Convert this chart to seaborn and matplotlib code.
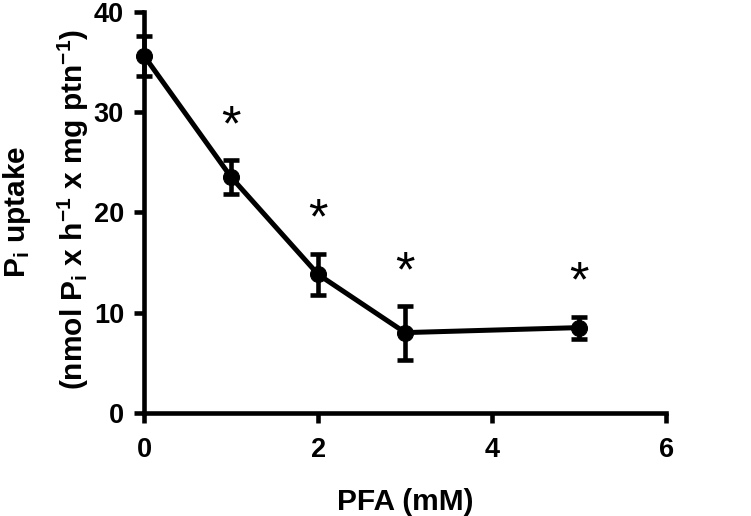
import matplotlib
matplotlib.use("Agg")
import matplotlib.pyplot as plt
import seaborn as sns
import pandas as pd

pfa_mM = [0, 1, 2, 3, 5]
uptake = [35.6, 23.5, 13.8, 8.0, 8.5]
sem = [2.0, 1.7, 2.0, 2.7, 1.1]
star_x = [1, 2, 3, 5]
star_y = [28.45, 19.15, 13.95, 12.95]
x_ticks = [0, 2, 4, 6]
y_ticks = [0, 10, 20, 30, 40]
ylabel_line1 = "P$_\\mathregular{i}$ uptake"
ylabel_line2 = "(nmol P$_\\mathregular{i}$ x h$^{-1}$ x mg ptn$^{-1}$)"
xlabel = "PFA (mM)"

sns.set_theme(style="ticks")
plt.rcParams['font.family'] = ['Liberation Sans', 'DejaVu Sans']
plt.rcParams['font.weight'] = 'bold'
plt.rcParams['mathtext.fontset'] = 'custom'
plt.rcParams['mathtext.rm'] = 'Liberation Sans:bold'
plt.rcParams['mathtext.it'] = 'Liberation Sans:bold'
plt.rcParams['mathtext.bf'] = 'Liberation Sans:bold'
plt.rcParams['mathtext.default'] = 'rm'

df = pd.DataFrame({"PFA": pfa_mM, "uptake": uptake, "sem": sem})

fig = plt.figure(figsize=(7.51, 5.16), dpi=100)
ax = fig.add_axes([0.192, 0.2, 0.695, 0.777])

ax.errorbar(df["PFA"], df["uptake"], yerr=df["sem"], fmt="none", ecolor="black",
            elinewidth=3.3, capsize=6, capthick=3.3, zorder=2)
sns.lineplot(data=df, x="PFA", y="uptake", ax=ax, color="black", linewidth=3.6,
             marker="o", markersize=11.5, markeredgecolor="black", zorder=3)

for sx, sy in zip(star_x, star_y):
    ax.text(sx, sy, "*", ha="center", va="center", fontsize=36, fontweight="normal",
            color="black")

ax.set_xlim(0, 6)
ax.set_ylim(0, 40)
ax.set_xticks(x_ticks)
ax.set_yticks(y_ticks)
ax.set_xticklabels([str(t) for t in x_ticks])
ax.set_yticklabels([str(t) for t in y_ticks])
ax.tick_params(axis="both", width=3.3, length=7.5, labelsize=19.5, colors="black")
ax.tick_params(axis="x", pad=10)
ax.tick_params(axis="y", pad=7)
for lab in ax.get_xticklabels() + ax.get_yticklabels():
    lab.set_fontweight("bold")

sns.despine(ax=ax)
for side in ["left", "bottom"]:
    ax.spines[side].set_linewidth(3.3)
    ax.spines[side].set_color("black")
    ax.spines[side].set_capstyle("projecting")

ax.set_xlabel(xlabel, fontsize=21.5, fontweight="bold", labelpad=18, color="black")
ax.set_ylabel("")

W, H = 751, 516
fig.text(17 / W, 1 - 212 / H, ylabel_line1, rotation=90, ha="center", va="center",
         fontsize=21.5, fontweight="bold", color="black")
fig.text(73 / W, 1 - 210 / H, ylabel_line2, rotation=90, ha="center", va="center",
         fontsize=21.5, fontweight="bold", color="black")

for child in ax.get_children():
    try:
        child.set_clip_on(False)
    except Exception:
        pass

fig.savefig("out.png", dpi=100)
